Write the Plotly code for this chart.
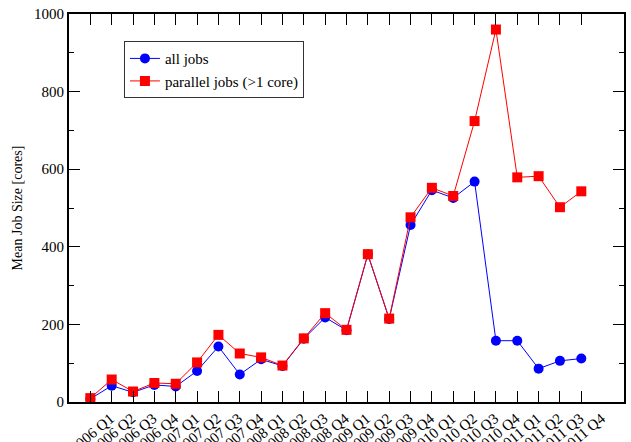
import plotly.graph_objects as go

# Quarterly categories on the x axis
quarters = [f"{y} Q{q}" for y in range(2006, 2012) for q in range(1, 5)]

# Mean job size in cores, per quarter
all_jobs = [8, 42, 25, 44, 40, 80, 143, 71, 110, 93, 163, 218,
            185, 380, 214, 456, 546, 526, 568, 158, 158, 86, 106, 112]
parallel_jobs = [10, 58, 27, 49, 47, 102, 173, 125, 115, 94, 164, 229,
                 186, 381, 215, 476, 552, 531, 724, 960, 579, 582, 502, 543]

serif = "Liberation Serif"

fig = go.Figure()
fig.add_trace(go.Scatter(
    x=quarters, y=all_jobs, name="all jobs", mode="lines+markers",
    line=dict(color="#0000ff", width=1),
    marker=dict(symbol="circle", size=10, color="#0000ff"),
))
fig.add_trace(go.Scatter(
    x=quarters, y=parallel_jobs, name="parallel jobs (>1 core)", mode="lines+markers",
    line=dict(color="#ff0000", width=1),
    marker=dict(symbol="square", size=10, color="#ff0000"),
))

axis_common = dict(
    showgrid=False, zeroline=False, showline=True, linecolor="black", linewidth=2,
    mirror="ticks", ticks="inside", ticklen=11, tickwidth=1, tickcolor="black",
    tickfont=dict(family=serif, size=15, color="black"), automargin=False,
)

fig.update_layout(
    width=631, height=442,
    margin=dict(l=69, r=7, t=14, b=40),
    paper_bgcolor="white", plot_bgcolor="white",
    font=dict(family=serif, size=15, color="black"),
    showlegend=True,
    legend=dict(
        x=0.099, y=0.93, xanchor="left", yanchor="top",
        bgcolor="white", bordercolor="#333333", borderwidth=1,
        font=dict(family=serif, size=15, color="black"),
        itemwidth=30, tracegroupgap=0,
    ),
    xaxis=dict(
        **axis_common, type="category", range=[-1, 25],
        tickangle=-40, ticklabelshift=20,
    ),
    yaxis=dict(
        **axis_common, range=[0, 1000], tickvals=[0, 200, 400, 600, 800, 1000],
        minor=dict(dtick=100, ticks="inside", ticklen=5, tickcolor="black", showgrid=False),
        title=dict(text="Mean Job Size [cores]", font=dict(family=serif, size=14), standoff=8),
    ),
)

fig.write_html("out.html")
